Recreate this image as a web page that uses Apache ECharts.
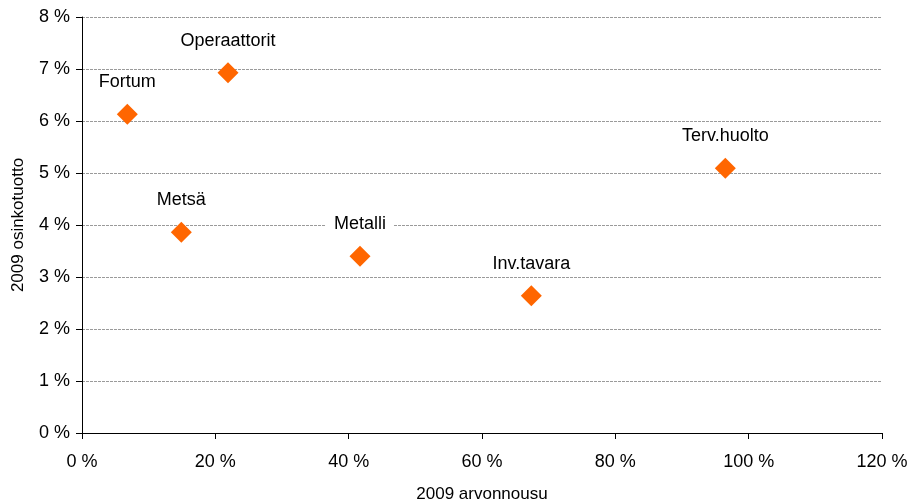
<!DOCTYPE html>
<html>
<head>
<meta charset="utf-8">
<script src="https://cdn.jsdelivr.net/npm/echarts@6/dist/echarts.min.js"></script>
<style>
  html, body { margin: 0; padding: 0; background: #fff; }
  #chart { width: 909px; height: 502px; }
</style>
</head>
<body>
<div id="chart"></div>
<script>
// toimialat: arvonnousu (x, %) ja osinkotuotto (y, %)
var names = ['Fortum', 'Operaattorit', 'Metsä', 'Metalli', 'Inv.tavara', 'Terv.huolto'];
var arvonnousu = [6.8, 21.9, 14.9, 41.7, 67.4, 96.5];
var osinkotuotto = [6.13, 6.93, 3.86, 3.40, 2.64, 5.09];

var pts = [];
for (let i = 0; i < names.length; i++) {
    pts.push({ value: [arvonnousu[i], osinkotuotto[i]], name: names[i] });
}

var myChart = echarts.init(document.getElementById('chart'));
var font = 'Liberation Sans, Arial, sans-serif';
var option = {
    animation: false,
    grid: { left: 82, right: 27, top: 17, bottom: 69, outerBoundsMode: 'none', containLabel: false },
    xAxis: {
        type: 'value',
        min: 0, max: 120, interval: 20,
        name: '2009 arvonnousu',
        nameLocation: 'middle',
        nameGap: 53,
        nameTextStyle: { color: '#000', fontSize: 17, fontFamily: font },
        axisLine: { show: true, lineStyle: { color: '#000', width: 1 } },
        axisTick: { show: true, length: 6, lineStyle: { color: '#000' } },
        axisLabel: { color: '#000', fontSize: 18, fontFamily: font, margin: 20, formatter: '{value} %' },
        splitLine: { show: false }
    },
    yAxis: {
        type: 'value',
        min: 0, max: 8, interval: 1,
        name: '2009 osinkotuotto',
        nameLocation: 'middle',
        nameGap: 55,
        nameTextStyle: { color: '#000', fontSize: 17, fontFamily: font },
        axisLine: { show: true, lineStyle: { color: '#000', width: 1 } },
        axisTick: { show: true, length: 6, lineStyle: { color: '#000' } },
        axisLabel: { color: '#000', fontSize: 18, fontFamily: font, margin: 12, formatter: '{value} %' },
        splitLine: { show: true, lineStyle: { color: '#9a9a9a', type: [3, 1], width: 1 } }
    },
    series: [{
        type: 'scatter',
        symbol: 'diamond',
        symbolSize: 21,
        itemStyle: { color: '#ff6600', opacity: 1 },
        data: pts,
        label: {
            show: true,
            position: 'inside',
            offset: [0, -32],
            formatter: '{b}',
            color: '#000',
            textBorderWidth: 0,
            fontSize: 18,
            fontFamily: font,
            backgroundColor: '#fff',
            padding: [2, 8]
        }
    }]
};
myChart.setOption(option);
</script>
</body>
</html>
